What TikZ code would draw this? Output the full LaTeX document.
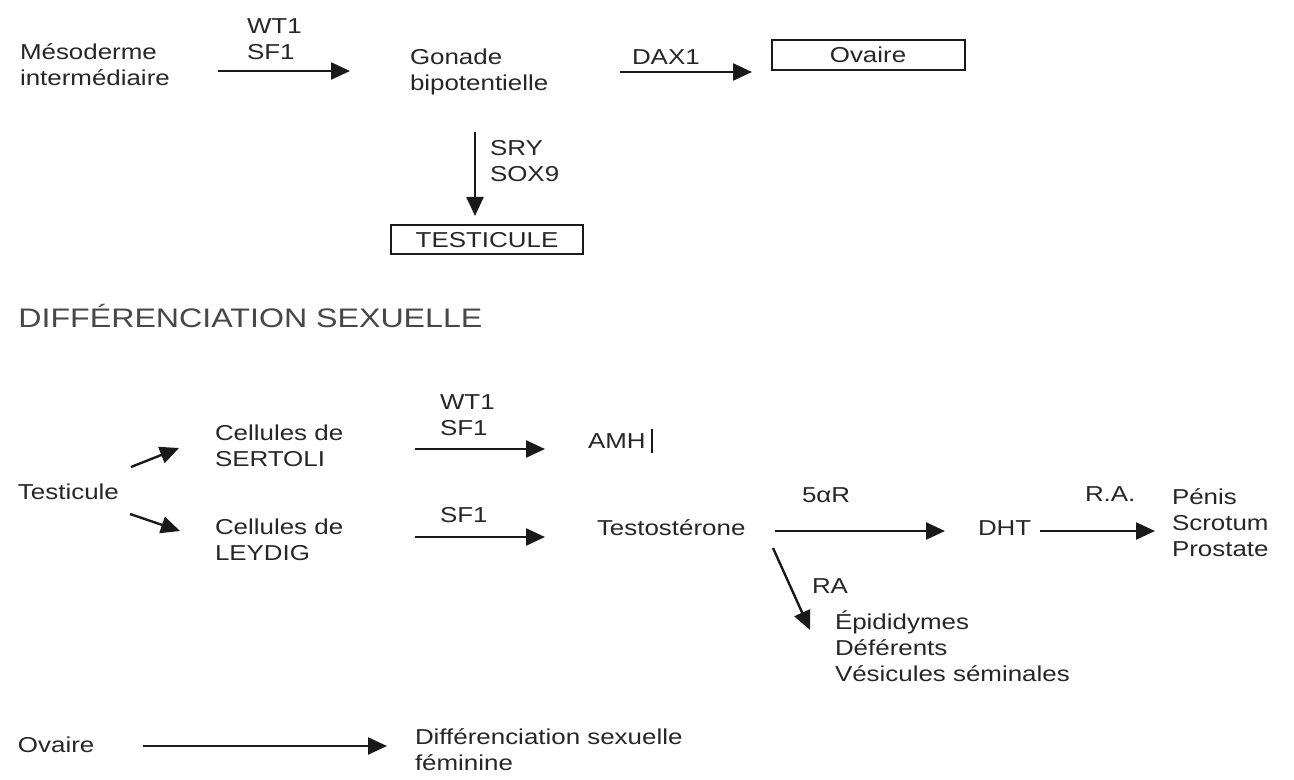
\documentclass[tikz,border=0pt]{standalone}
\usepackage{fontspec}
\setmainfont[FakeStretch=1.2]{Liberation Sans}
\usetikzlibrary{arrows.meta}
\definecolor{txt}{HTML}{262626}
\definecolor{head}{HTML}{474747}
\definecolor{ln}{HTML}{1A1A1A}
\begin{document}
\begin{tikzpicture}[x=0.5pt,y=-0.5pt,
  lbl/.style={anchor=west,inner sep=0pt,outer sep=0pt,align=left,text=txt,font=\fontsize{10.8}{13}\selectfont},
  boxn/.style={draw=ln,line width=1pt,inner sep=0pt,text=txt,font=\fontsize{10.8}{13}\selectfont},
  arr/.style={draw=ln,line width=1.2pt,-{Triangle[length=9.5pt,width=8.5pt]}}]
\useasboundingbox (0,0) rectangle (1294,780);
% --- top section ---
\node[lbl] (meso) at (20,65) {Mésoderme\\intermédiaire};
\node[lbl] (l1) at (247,39) {WT1\\SF1};
\node[lbl] (gonade) at (410,72) {Gonade\\bipotentielle};
\node[lbl] (dax) at (632,57) {DAX1};
\node[boxn,minimum width=96.5pt,minimum height=15pt] (ovbox) at (868,55) {Ovaire};
\node[lbl] (sry) at (490,161) {SRY\\SOX9};
\node[boxn,minimum width=96pt,minimum height=14.5pt] (testbox) at (487,240) {TESTICULE};
\coordinate (a1s) at (218,71); \coordinate (a1e) at (350,71);
\coordinate (a2s) at (620,72); \coordinate (a2e) at (752,72);
\coordinate (a3s) at (475,132); \coordinate (a3e) at (475,216);
\draw[arr] (a1s) -- (a1e);
\draw[arr] (a2s) -- (a2e);
\draw[arr] (a3s) -- (a3e);
% --- heading ---
\node[anchor=west,inner sep=0pt,text=head,font=\fontsize{13.4}{15}\selectfont] (titre) at (18,316) {DIFFÉRENCIATION SEXUELLE};
% --- lower section ---
\node[lbl] (testi) at (18,492) {Testicule};
\node[lbl] (sertoli) at (215,446) {Cellules de\\SERTOLI};
\node[lbl] (leydig) at (215,540) {Cellules de\\LEYDIG};
\node[lbl] (l2) at (440,415) {WT1\\SF1};
\node[lbl] (amh) at (588,441) {AMH};
\node[lbl] (l3) at (440,515) {SF1};
\node[lbl] (testo) at (597,528) {Testostérone};
\node[lbl] (l4) at (802,495) {5αR};
\node[lbl] (dht) at (978,528) {DHT};
\node[lbl] (l5) at (1085,494) {R.A.};
\node[lbl] (penis) at (1172,523) {Pénis\\Scrotum\\Prostate};
\node[lbl] (l6) at (812,586) {RA};
\node[lbl] (epi) at (835,646) {Épididymes\\Déférents\\Vésicules séminales};
\node[lbl] (ovaire) at (18,745) {Ovaire};
\node[lbl] (femi) at (415,750) {Différenciation sexuelle\\féminine};
\coordinate (b1s) at (131,467); \coordinate (b1e) at (179,448);
\coordinate (b2s) at (130,514); \coordinate (b2e) at (180,531);
\coordinate (b3s) at (415,449); \coordinate (b3e) at (545,449);
\coordinate (b4s) at (415,537); \coordinate (b4e) at (545,537);
\coordinate (b5s) at (775,531); \coordinate (b5e) at (945,531);
\coordinate (b6s) at (1040,531); \coordinate (b6e) at (1155,531);
\coordinate (b7s) at (773,548); \coordinate (b7e) at (810,630);
\coordinate (b8s) at (143,746); \coordinate (b8e) at (387,746);
\coordinate (bar1) at (652,429); \coordinate (bar2) at (652,453);
\draw[arr] (b1s) -- (b1e);
\draw[arr] (b2s) -- (b2e);
\draw[arr] (b3s) -- (b3e);
\draw[arr] (b4s) -- (b4e);
\draw[arr] (b5s) -- (b5e);
\draw[arr] (b6s) -- (b6e);
\draw[arr] (b7s) -- (b7e);
\draw[arr] (b8s) -- (b8e);
\draw[draw=ln,line width=1.2pt] (bar1) -- (bar2);
\end{tikzpicture}
\end{document}
